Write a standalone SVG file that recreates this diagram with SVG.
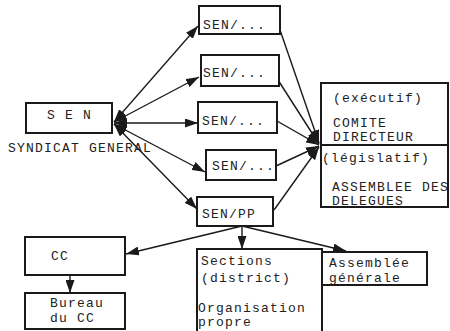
<svg xmlns="http://www.w3.org/2000/svg" width="450" height="331" viewBox="0 0 450 331">
<style>
.box{fill:#fff;stroke:#1a1a1a;stroke-width:2}
.t{font-family:"Liberation Mono","DejaVu Sans Mono",monospace;font-size:13px;letter-spacing:1.2px;fill:#222}
.c{fill:none;stroke:#1a1a1a;stroke-width:1.4}
.d{marker-start:url(#ah);marker-end:url(#ah)}
.e{marker-end:url(#ah)}
</style>
<defs>
<marker id="ah" markerUnits="userSpaceOnUse" markerWidth="14" markerHeight="9" refX="13" refY="4.5" orient="auto-start-reverse">
<path d="M0,0 L13,4.5 L0,9 z" fill="#1a1a1a"/>
</marker>
</defs>
<rect width="450" height="331" fill="#fff"/>
<g id="connectors">
<line class="c d" x1="114" y1="122" x2="198" y2="26"/>
<line class="c d" x1="114" y1="122" x2="199" y2="77"/>
<line class="c d" x1="114" y1="123" x2="198" y2="123"/>
<line class="c d" x1="114" y1="124" x2="205" y2="172"/>
<line class="c d" x1="114" y1="124" x2="197" y2="209"/>
<line class="c e" x1="280" y1="30" x2="319" y2="143"/>
<line class="c e" x1="278" y1="80" x2="319" y2="144"/>
<line class="c e" x1="277" y1="121" x2="319" y2="145"/>
<line class="c e" x1="276" y1="166" x2="319" y2="146"/>
<line class="c e" x1="274" y1="210" x2="319" y2="147"/>
<line class="c e" x1="242" y1="226" x2="126" y2="254"/>
<line class="c e" x1="242" y1="226" x2="242" y2="249"/>
<line class="c e" x1="242" y1="226" x2="346" y2="251"/>
<line class="c e" x1="70" y1="275" x2="70" y2="293"/>
</g>
<g id="sen">
<rect class="box" x="26" y="103" width="86" height="30"/>
<text class="t" x="47" y="119">S E N</text>
<text class="t" x="8" y="152">SYNDICAT GENERAL</text>
</g>
<g id="sen1">
<rect class="box" x="199" y="6" width="81" height="28"/>
<text class="t" x="203" y="29">SEN/...</text>
</g>
<g id="sen2">
<rect class="box" x="201" y="55" width="78" height="31"/>
<text class="t" x="203" y="77">SEN/...</text>
</g>
<g id="sen3">
<rect class="box" x="198" y="102" width="79" height="31"/>
<text class="t" x="202" y="125">SEN/...</text>
</g>
<g id="sen4">
<rect class="box" x="206" y="150" width="70" height="30"/>
<text class="t" x="212" y="170">SEN/...</text>
</g>
<g id="senpp">
<rect class="box" x="197" y="197" width="76" height="29"/>
<text class="t" x="202" y="218">SEN/PP</text>
</g>
<g id="comite">
<rect class="box" x="321" y="83" width="127" height="124"/>
<line x1="321" y1="145" x2="448" y2="145" stroke="#1a1a1a" stroke-width="2"/>
<text class="t" x="333" y="102">(exécutif)</text>
<text class="t" x="333" y="127">COMITE</text>
<text class="t" x="333" y="141">DIRECTEUR</text>
<text class="t" x="322" y="162">(législatif)</text>
<text class="t" x="332" y="191">ASSEMBLEE DES</text>
<text class="t" x="332" y="205">DELEGUES</text>
</g>
<g id="cc">
<rect class="box" x="25" y="237" width="100" height="38"/>
<text class="t" x="51" y="260">CC</text>
</g>
<g id="bureau">
<rect class="box" x="25" y="293" width="100" height="36"/>
<text class="t" x="50" y="307">Bureau</text>
<text class="t" x="50" y="322">du CC</text>
</g>
<g id="sections">
<rect class="box" x="197" y="249" width="125" height="95"/>
<text class="t" x="201" y="265">Sections</text>
<text class="t" x="201" y="282">(district)</text>
<text class="t" x="198" y="312">Organisation</text>
<text class="t" x="198" y="326">propre</text>
</g>
<g id="assemblee">
<rect class="box" x="322" y="252" width="105" height="33"/>
<text class="t" x="329" y="267">Assemblée</text>
<text class="t" x="329" y="282">générale</text>
</g>
</svg>
